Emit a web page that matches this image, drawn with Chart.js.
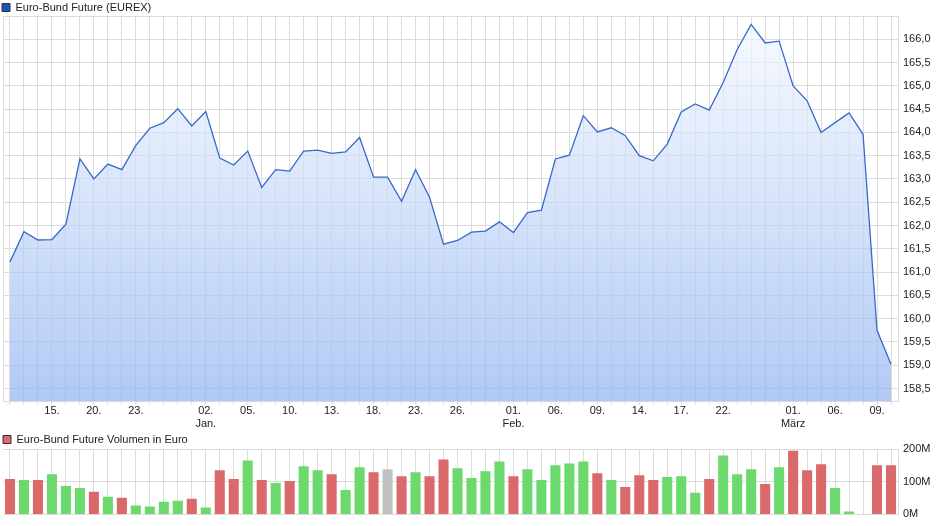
<!DOCTYPE html>
<html>
<head>
<meta charset="utf-8">
<script src="https://cdn.jsdelivr.net/npm/chart.js@4.4.1/dist/chart.umd.min.js"></script>
<style>
html, body { margin: 0; padding: 0; background: #fff; }
#wrap { position: relative; width: 940px; height: 526px; }
#price { position: absolute; left: 0; top: 0; }
#volume { position: absolute; left: 0; top: 431px; }
</style>
</head>
<body>
<div id="wrap">
    <canvas id="price" width="940" height="431"></canvas>
    <canvas id="volume" width="940" height="95"></canvas>
</div>
<script>
// trading days, Dec 2016 - Mar 2017
var dates = ['12.12.', '13.12.', '14.12.', '15.12.', '16.12.', '19.12.', '20.12.', '21.12.', '22.12.', '23.12.',
             '27.12.', '28.12.', '29.12.', '30.12.', '02.01.', '03.01.', '04.01.', '05.01.', '06.01.', '09.01.',
             '10.01.', '11.01.', '12.01.', '13.01.', '16.01.', '17.01.', '18.01.', '19.01.', '20.01.', '23.01.',
             '24.01.', '25.01.', '26.01.', '27.01.', '30.01.', '31.01.', '01.02.', '02.02.', '03.02.', '06.02.',
             '07.02.', '08.02.', '09.02.', '10.02.', '13.02.', '14.02.', '15.02.', '16.02.', '17.02.', '20.02.',
             '21.02.', '22.02.', '23.02.', '24.02.', '27.02.', '28.02.', '01.03.', '02.03.', '03.03.', '06.03.',
             '07.03.', '08.03.', '09.03.', '10.03.'];

// which dates get a tick label
var labelIdx = [3, 6, 9, 14, 17, 20, 23, 26, 29, 32, 36, 39, 42, 45, 48, 51, 56, 59, 62];
var monthNames = { '01': 'Jan.', '02': 'Feb.', '03': 'März' };

var prevClose = 161.40;
var prices = [161.22, 161.87, 161.69, 161.70, 162.03, 163.43, 163.00, 163.32, 163.20, 163.72,
              164.09, 164.21, 164.51, 164.14, 164.45, 163.45, 163.30, 163.60, 162.82, 163.20,
              163.17, 163.60, 163.62, 163.55, 163.58, 163.89, 163.04, 163.04, 162.52, 163.20,
              162.61, 161.60, 161.68, 161.86, 161.88, 162.08, 161.85, 162.28, 162.33, 163.43,
              163.51, 164.36, 164.01, 164.10, 163.93, 163.50, 163.39, 163.75, 164.44, 164.61,
              164.48, 165.07, 165.78, 166.32, 165.92, 165.96, 165.00, 164.68, 164.00, 164.21,
              164.42, 163.96, 159.75, 159.02];

// volume in million euro
var volumes = [108, 105, 105, 123, 87, 81, 69, 54, 51, 27,
               24, 39, 42, 48, 21, 135, 108, 165, 105, 96,
               102, 147, 135, 123, 75, 144, 129, 138, 117, 129,
               117, 168, 141, 111, 132, 162, 117, 138, 105, 150,
               156, 162, 126, 105, 84, 120, 105, 114, 117, 66,
               108, 180, 123, 138, 93, 144, 195, 135, 153, 81,
               9, 1.5, 150, 150];

var priceTicks = [158.5, 159, 159.5, 160, 160.5, 161, 161.5, 162, 162.5, 163, 163.5, 164, 164.5, 165, 165.5, 166, 166.5];
var volumeTicks = [0, 100, 200];

var gridColor = '#dcdcdc';
var textColor = '#222';
Chart.defaults.font.family = '"Liberation Sans", Arial, sans-serif';
Chart.defaults.font.size = 11;
Chart.defaults.color = textColor;

function tickLabel(i)
{
    var pos = labelIdx.indexOf(i);
    if (pos < 0) return '';
    var day = dates[i].slice(0, 3);
    if (pos > 0) {
        var month = dates[i].slice(3, 5);
        var prevMonth = dates[labelIdx[pos - 1]].slice(3, 5);
        if (month !== prevMonth) return [day, monthNames[month]];
    }
    return day;
}

function legendItem(text, fill)
{
    return function () {
        return [{ text: text, fillStyle: fill, strokeStyle: '#333', lineWidth: 1, hidden: false, datasetIndex: 0, fontColor: textColor }];
    };
}

// bar colours from price change
var barColors = [];
for (var i = 0; i < prices.length; i++) {
    var before = i === 0 ? prevClose : prices[i - 1];
    if (prices[i] > before) barColors.push('#6bd96b');
    else if (prices[i] < before) barColors.push('#d9696b');
    else barColors.push('#c0c0c0');
}

var priceChart = new Chart(document.getElementById('price'), {
    type: 'line',
    data: {
        labels: dates,
        datasets: [{
            label: 'Euro-Bund Future (EUREX)',
            data: prices,
            borderColor: '#3868cc',
            borderWidth: 1.3,
            pointRadius: 0,
            tension: 0,
            fill: 'start',
            backgroundColor: function (ctx) {
                var area = ctx.chart.chartArea;
                if (!area) return 'rgba(180,200,240,0.6)';
                var g = ctx.chart.ctx.createLinearGradient(0, area.top, 0, area.bottom);
                g.addColorStop(0, 'rgba(246,249,255,0.66)');
                g.addColorStop(1, 'rgba(140,177,240,0.68)');
                return g;
            }
        }]
    },
    options: {
        responsive: false,
        animation: false,
        layout: { padding: 0 },
        plugins: {
            legend: {
                align: 'start',
                maxHeight: 16,
                labels: {
                    boxWidth: 8, boxHeight: 8, padding: 2,
                    generateLabels: legendItem('Euro-Bund Future (EUREX)', '#1a56c0')
                }
            },
            tooltip: { enabled: false }
        },
        scales: {
            x: {
                offset: true,
                grid: { color: gridColor, tickLength: 3, offset: false },
                border: { color: gridColor },
                ticks: {
                    autoSkip: false, maxRotation: 0, padding: 0,
                    callback: function (v, i) { return tickLabel(i); }
                }
            },
            y: {
                position: 'right',
                min: 158.22,
                max: 166.5,
                afterBuildTicks: function (axis) {
                    axis.ticks = priceTicks.map(function (v) { return { value: v }; });
                },
                afterFit: function (axis) { axis.width = 42; },
                grid: { color: gridColor, drawTicks: false },
                border: { color: gridColor },
                ticks: {
                    padding: 5,
                    callback: function (v) { return v >= 166.5 ? '' : v.toFixed(1).replace('.', ','); }
                }
            },
            yl: {
                position: 'left',
                display: true,
                ticks: { display: false },
                grid: { display: false, drawTicks: false },
                border: { color: gridColor },
                afterFit: function (axis) { axis.width = 3; }
            }
        }
    }
});

var volumeChart = new Chart(document.getElementById('volume'), {
    type: 'bar',
    data: {
        labels: dates,
        datasets: [{
            label: 'Euro-Bund Future Volumen in Euro',
            data: volumes,
            backgroundColor: barColors,
            barPercentage: 0.72,
            categoryPercentage: 1
        }]
    },
    options: {
        responsive: false,
        animation: false,
        layout: { padding: { left: 0, right: 0, top: 0, bottom: 8 } },
        plugins: {
            legend: {
                align: 'start',
                maxHeight: 18,
                labels: {
                    boxWidth: 8, boxHeight: 8, padding: 3,
                    generateLabels: legendItem('Euro-Bund Future Volumen in Euro', '#d9696b')
                }
            },
            tooltip: { enabled: false }
        },
        scales: {
            x: {
                offset: true,
                grid: { color: gridColor, offset: false, drawTicks: false },
                border: { color: gridColor },
                ticks: { display: false }
            },
            y: {
                position: 'right',
                min: 0,
                max: 200,
                afterBuildTicks: function (axis) {
                    axis.ticks = volumeTicks.map(function (v) { return { value: v }; });
                },
                afterFit: function (axis) { axis.width = 42; },
                grid: { color: gridColor, drawTicks: false },
                border: { color: gridColor },
                ticks: {
                    padding: 5,
                    callback: function (v) { return v + 'M'; }
                }
            },
            yl: {
                position: 'left',
                display: true,
                ticks: { display: false },
                grid: { display: false, drawTicks: false },
                border: { display: false },
                afterFit: function (axis) { axis.width = 3; }
            }
        }
    }
});
</script>
</body>
</html>
